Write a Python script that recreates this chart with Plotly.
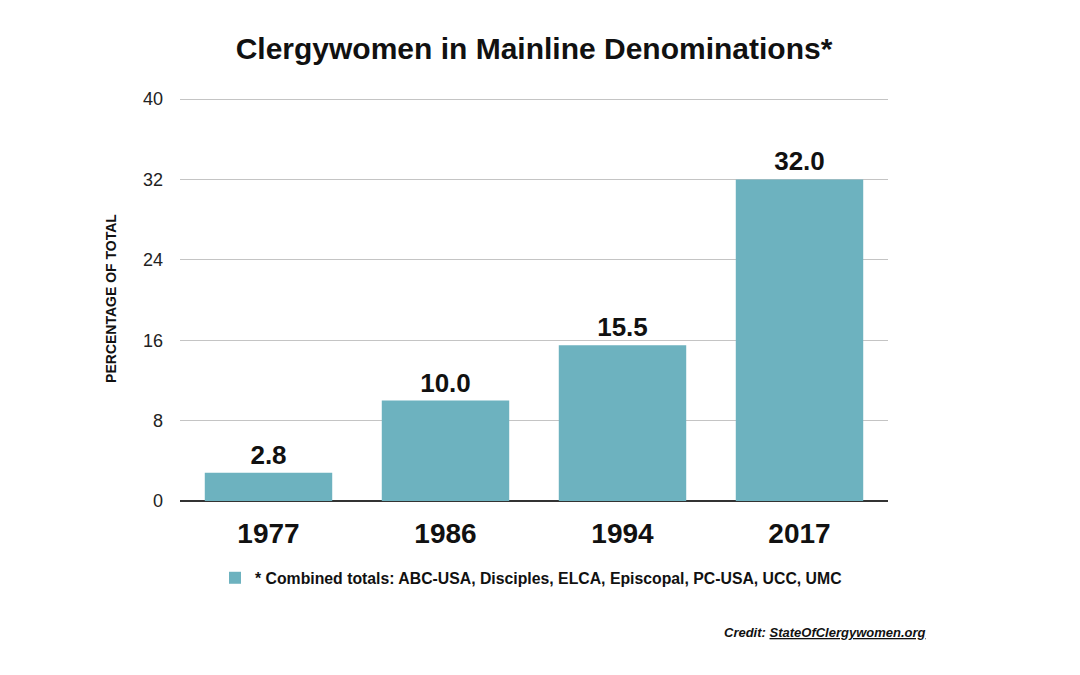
import plotly.graph_objects as go

years = ["1977", "1986", "1994", "2017"]
percent = [2.8, 10.0, 15.5, 32.0]
y_ticks = [0, 8, 16, 24, 32, 40]
legend_label = "* Combined totals: ABC-USA, Disciples, ELCA, Episcopal, PC-USA, UCC, UMC"

BAR = "#6db2bf"
FONT = "Liberation Sans, Arial, Helvetica, sans-serif"

# page body has an 8px offset, so margins are reduced by 8px on left/top
Y_TOP = 40.3
ML, PW = 172, 708
PH = round(402 * Y_TOP / 40)
MT = 91 - (PH - 402)

fig = go.Figure()
fig.add_trace(go.Bar(
    x=years, y=percent, name="<b>" + legend_label + "</b>",
    marker=dict(color=BAR, line=dict(width=0)),
    text=[f"{v:.1f}" for v in percent], textposition="outside",
    textfont=dict(family=FONT, size=26, color="#111111"),
    texttemplate="<b>%{text}</b>", cliponaxis=False,
    showlegend=True,
))

fig.update_layout(
    width=1080, height=675,
    paper_bgcolor="white", plot_bgcolor="white",
    margin=dict(l=ML, r=1080 - ML - PW, t=MT, b=675 - MT - PH),
    bargap=0.28,
    font=dict(family=FONT, color="#111111"),
    title=dict(text="<b>Clergywomen in Mainline Denominations*</b>",
               x=(534 - 8) / 1080, xanchor="center", y=1 - (48 - 8) / 675, yanchor="middle",
               font=dict(size=30, color="#111111", family=FONT)),
    xaxis=dict(tickfont=dict(size=28, family=FONT, color="#111111"),
               tickprefix="<b>", ticksuffix="</b>",
               showgrid=False, showline=False, ticks="", ticklen=0,
               ticklabelstandoff=13),
    yaxis=dict(range=[0, Y_TOP], tickvals=y_ticks, ticktext=[str(t) for t in y_ticks],
               tickfont=dict(size=18, color="#222222", family=FONT),
               showgrid=True, gridcolor="#c4c4c4", gridwidth=1,
               zeroline=True, zerolinecolor="#333333", zerolinewidth=1.5,
               ticks="", ticklabelstandoff=16,
               title=dict(text="<b>PERCENTAGE OF TOTAL</b>", standoff=23,
                          font=dict(size=14, color="#111111", family=FONT))),
    legend=dict(x=(215 - 180) / PW, xanchor="left", y=(501 - 578) / PH, yanchor="middle",
                font=dict(size=15.8, family=FONT, color="#111111"),
                bgcolor="rgba(0,0,0,0)", itemwidth=30),
    showlegend=True,
)

fig.add_annotation(
    text="<b><i>Credit: <u>StateOfClergywomen.org</u></i></b>",
    xref="paper", yref="paper", x=(928 - 180) / PW, y=(501 - 632) / PH,
    xanchor="right", yanchor="middle", showarrow=False,
    font=dict(size=13, family=FONT, color="#111111"),
)

fig.write_html("out.html")
